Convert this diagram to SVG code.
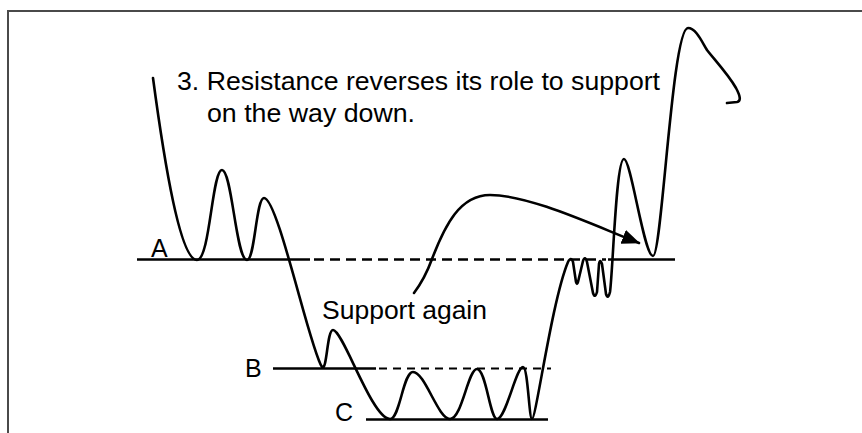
<svg xmlns="http://www.w3.org/2000/svg" width="862" height="433" viewBox="0 0 862 433">
<style>
.frame{fill:none;stroke:#4a4a4a;stroke-width:2}
.curve{fill:none;stroke:#000;stroke-width:2.6;stroke-linecap:round;stroke-linejoin:round}
.level{fill:none;stroke:#000;stroke-width:2.4}
.dashA{fill:none;stroke:#000;stroke-width:2.4;stroke-dasharray:10 6}
.dashB{fill:none;stroke:#000;stroke-width:2;stroke-dasharray:8 6}
.t{font-family:"Liberation Sans",Arial,sans-serif;font-size:25px;fill:#000}
</style>
<defs>
<marker id="ah" markerUnits="userSpaceOnUse" markerWidth="20" markerHeight="16" refX="17" refY="7.5" orient="auto">
<path d="M0,0 L18,7.5 L0,15 z" fill="#000"/>
</marker>
</defs>
<rect width="862" height="433" fill="#fff"/>
<path class="frame" d="M8,433 V11 H862"/>
<g id="levels">
<g id="level-A">
<path class="level" d="M137,259.5 H310"/>
<path class="dashA" d="M314,259.5 H606"/>
<path class="level" d="M608,259.5 H675"/>
<text class="t" x="151" y="257">A</text>
</g>
<g id="level-B">
<path class="level" d="M273,368.5 H376"/>
<path class="dashB" d="M379,368.5 H551"/>
<text class="t" x="245" y="377">B</text>
</g>
<g id="level-C">
<path class="level" d="M366,419.5 H548"/>
<text class="t" x="335" y="421">C</text>
</g>
</g>
<g id="price">
<path class="curve" d="M153,78 C164,160 180,260 197,260 C210,260 212,170 222,170 C232,170 236,260 247,260 C255,260 256,198 264,198 C278,198 310,350 322,367 C327,372 327,330 333,330 C343,330 372,419 390,419 C400,419 403,372 413,372 C425,372 438,419 450,419 C462,419 468,369 477,369 C486,369 490,419 497,419 C506,419 516,367 523,367 C528,367 529,419 532,419 C536,419 552,300 568,262 Q571,256 573,262 L576,282 Q577,286 578,282 L583,261 Q585,255 587,262 L593,293 Q595,299 597,292 L599,264 Q600,258 602,264 L606,294 Q608,300 610,292 C613,270 616,159 624,159 C631,159 644,256 653,256 C662,256 672,28 688,28 C696,28 702,42 707,50 C713,58 728,74 736,88 Q743,101 737,102 L727,103"/>
</g>
<g id="note-support">
<text class="t" x="322" y="319" textLength="165" lengthAdjust="spacingAndGlyphs">Support again</text>
</g>
<g id="connectors">
<path class="curve" marker-end="url(#ah)" d="M414,293 C420,285 428,270 432,259 C445,225 460,195 490,195 C530,195 595,226 639,243"/>
</g>
<g id="title">
<text class="t" x="177" y="90" textLength="483" lengthAdjust="spacingAndGlyphs">3. Resistance reverses its role to support</text>
<text class="t" x="207" y="122" textLength="208" lengthAdjust="spacingAndGlyphs">on the way down.</text>
</g>
</svg>
